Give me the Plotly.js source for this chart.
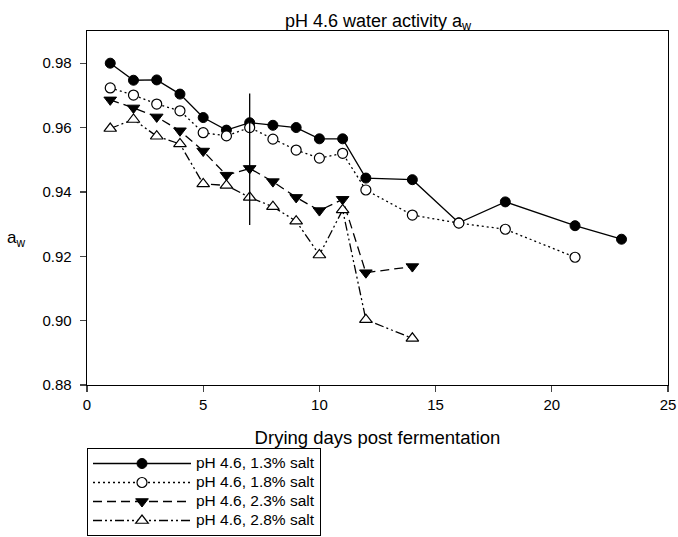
<!DOCTYPE html>
<html>
<head>
<meta charset="utf-8">
<script src="https://cdn.plot.ly/plotly-3.0.1.min.js"></script>
<style>html,body{margin:0;padding:0;background:#fff;}#chart{width:678px;height:537px;}</style>
</head>
<body>
<div id="chart"></div>
<script>
// Data
const days13 = [1,2,3,4,5,6,7,8,9,10,11,12,14,16,18,21,23];
const aw13   = [0.9800,0.9747,0.9748,0.9704,0.9631,0.9592,0.9615,0.9607,0.9600,0.9565,0.9565,0.9443,0.9438,0.9304,0.9369,0.9295,0.9253];

const days18 = [1,2,3,4,5,6,7,8,9,10,11,12,14,16,18,21];
const aw18   = [0.9723,0.9701,0.9673,0.9652,0.9584,0.9574,0.9600,0.9564,0.9530,0.9505,0.9520,0.9406,0.9328,0.9303,0.9284,0.9197];

const days23 = [1,2,3,4,5,6,7,8,9,10,11,12,14];
const aw23   = [0.9686,0.9661,0.9633,0.9590,0.9527,0.9452,0.9473,0.9432,0.9383,0.9342,0.9377,0.9149,0.9168];

const days28 = [1,2,3,4,5,6,7,8,9,10,11,12,14];
const aw28   = [0.9597,0.9625,0.9573,0.9549,0.9425,0.9420,0.9383,0.9354,0.9309,0.9204,0.9344,0.9003,0.8945];

// Vertical error bar at day 7
const barX = [7, 7];
const barY = [0.9297, 0.9706];

const names = ["pH 4.6, 1.3% salt","pH 4.6, 1.8% salt","pH 4.6, 2.3% salt","pH 4.6, 2.8% salt"];
const xTicks = [0,5,10,15,20,25];
const yTicks = [0.88,0.90,0.92,0.94,0.96,0.98];

const legName = n => '<span style="font-size:15.5px">' + n + '</span>';

const lw = 1.3;
const traces = [
  {x: days13, y: aw13, name: legName(names[0]), mode: 'lines+markers',
   line: {color: '#000', width: lw, dash: 'solid'},
   marker: {symbol: 'circle', size: 10, color: '#000', line: {color: '#000', width: 1}}},
  {x: days18, y: aw18, name: legName(names[1]), mode: 'lines+markers',
   line: {color: '#000', width: lw, dash: '2px,3px'},
   marker: {symbol: 'circle', size: 10, color: '#fff', line: {color: '#000', width: 1.2}}},
  {x: days23, y: aw23, name: legName(names[2]), mode: 'lines+markers',
   line: {color: '#000', width: lw, dash: '9px,5px'},
   marker: {symbol: 'triangle-down', size: 11, color: '#000', line: {color: '#000', width: 1}}},
  {x: days28, y: aw28, name: legName(names[3]), mode: 'lines+markers',
   line: {color: '#000', width: lw, dash: '9px,3px,2px,3px,2px,3px'},
   marker: {symbol: 'triangle-up', size: 11, color: '#fff', line: {color: '#000', width: 1.2}}},
  {x: barX, y: barY, mode: 'lines', showlegend: false, hoverinfo: 'skip',
   line: {color: '#000', width: 1.3}}
];

const layout = {
  width: 678, height: 537,
  margin: {l: 87, r: 10, t: 31, b: 152, autoexpand: false},
  paper_bgcolor: '#fff', plot_bgcolor: '#fff',
  font: {family: 'Arial, "Liberation Sans", sans-serif', size: 15, color: '#000'},
  title: {text: 'pH 4.6 water activity a<sub>w</sub>', x: 0.5575, xanchor: 'center', y: 0.962, yanchor: 'middle',
          font: {size: 18, color: '#000'}},
  xaxis: {range: [0, 25], tickvals: xTicks, ticks: 'outside', ticklen: 6, tickwidth: 1.2,
          showline: true, linecolor: '#000', linewidth: 1.3, mirror: true, showgrid: false, zeroline: false,
          tickfont: {size: 15}, ticklabelstandoff: 0,
          title: {text: 'Drying days post fermentation', font: {size: 18.5}, standoff: 18}},
  yaxis: {range: [0.88, 0.99], tickvals: yTicks, tickformat: '.2f',
          ticks: 'outside', ticklen: 6, tickwidth: 1.2,
          showline: true, linecolor: '#000', linewidth: 1.3, mirror: true, showgrid: false, zeroline: false,
          tickfont: {size: 15}, ticklabelstandoff: 5},
  annotations: [{text: 'a<sub>w</sub>', xref: 'paper', yref: 'paper', x: -0.123, y: 0.413,
                 xanchor: 'center', yanchor: 'middle', showarrow: false, font: {size: 17}}],
  showlegend: true,
  legend: {x: 0, xanchor: 'left', y: -0.178, yanchor: 'top', bordercolor: '#000', borderwidth: 1,
           bgcolor: '#fff', font: {size: 11.8}, itemwidth: 98, tracegroupgap: 0}
};

Plotly.newPlot('chart', traces, layout, {displayModeBar: false, staticPlot: true});
</script>
</body>
</html>
